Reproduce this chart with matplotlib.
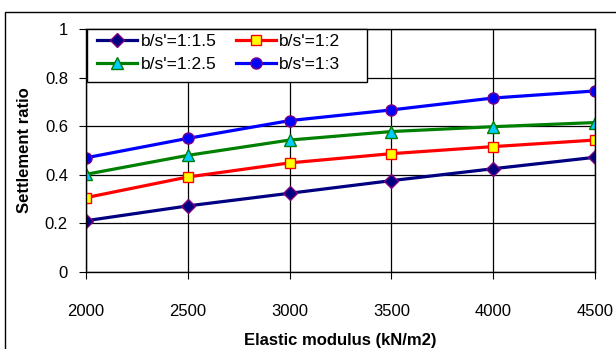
import numpy as np
import matplotlib
matplotlib.use("Agg")
from matplotlib import pyplot as plt
from matplotlib.patches import Rectangle

plt.rcParams['font.family'] = ['Liberation Sans', 'DejaVu Sans']

# elastic modulus (kN/m2)
modulus = [2000, 2500, 3000, 3500, 4000, 4500]

# settlement ratio for each b/s' ratio
r_1_1_5 = [0.211, 0.272, 0.324, 0.376, 0.425, 0.472]
r_1_2 = [0.306, 0.391, 0.449, 0.487, 0.516, 0.543]
r_1_2_5 = [0.402, 0.480, 0.543, 0.578, 0.598, 0.615]
r_1_3 = [0.470, 0.550, 0.623, 0.667, 0.716, 0.745]

labels = ["b/s'=1:1.5", "b/s'=1:2", "b/s'=1:2.5", "b/s'=1:3"]

fig = plt.figure(figsize=(6.16, 3.49), dpi=100)
ax = fig.add_axes([86/616, 1 - 272/349, (595-86)/616, (272-29)/349])

# outer chart frame
fig.patches.append(Rectangle((5/616, -0.05), 1.1, 1 - 12/349 + 0.05,
                             transform=fig.transFigure, fill=False,
                             edgecolor='black', linewidth=1.0))

l1, = ax.plot(modulus, r_1_1_5, color='#000080', lw=2.3, marker='D', ms=7,
              mfc='#000080', mec='#800080', mew=1, label=labels[0])
l2, = ax.plot(modulus, r_1_2, color='#ff0000', lw=2.3, marker='s', ms=7,
              mfc='#ffff00', mec='#ff0000', mew=1, label=labels[1])
l3, = ax.plot(modulus, r_1_2_5, color='#008000', lw=2.3, marker='^', ms=9,
              mfc='#00ccff', mec='#008000', mew=1, label=labels[2])
l4, = ax.plot(modulus, r_1_3, color='#0000ff', lw=2.3, marker='o', ms=8,
              mfc='#0000ff', mec='#800080', mew=1, label=labels[3])

ax.set_xlim(2000, 4500)
ax.set_ylim(0, 1)
ax.set_xticks(modulus)
ax.set_yticks([0, 0.2, 0.4, 0.6, 0.8, 1])
ax.set_yticklabels(['0', '0.2', '0.4', '0.6', '0.8', '1'])
ax.grid(True, color='black', linewidth=0.9)
ax.set_axisbelow(True)
for s in ax.spines.values():
    s.set_linewidth(1.0)
ax.tick_params(axis='x', length=5, pad=18, labelsize=12)
ax.tick_params(axis='y', length=5, pad=8, labelsize=12)

ax.set_xlabel('Elastic modulus (kN/m2)', fontsize=12, fontweight='bold', labelpad=10)
ax.set_ylabel('Settlement ratio', fontsize=12, fontweight='bold', labelpad=9)

# legend box (wider than its content, as in the original)
ax.add_patch(Rectangle((1/509, 0.782), 0.55, 1 - 0.782, transform=ax.transAxes,
                       facecolor='white', edgecolor='black', lw=1.0,
                       zorder=4, clip_on=False))
leg = ax.legend([l1, l3, l2, l4], [labels[0], labels[2], labels[1], labels[3]],
                loc='upper left', bbox_to_anchor=(0.012, 1.0), ncol=2,
                fontsize=12.5, frameon=False, borderpad=0.3, handlelength=2.3,
                handletextpad=0.2, columnspacing=1.1, labelspacing=0.45,
                borderaxespad=0.0)
leg.set_zorder(5)

fig.savefig('out.png', dpi=100)
